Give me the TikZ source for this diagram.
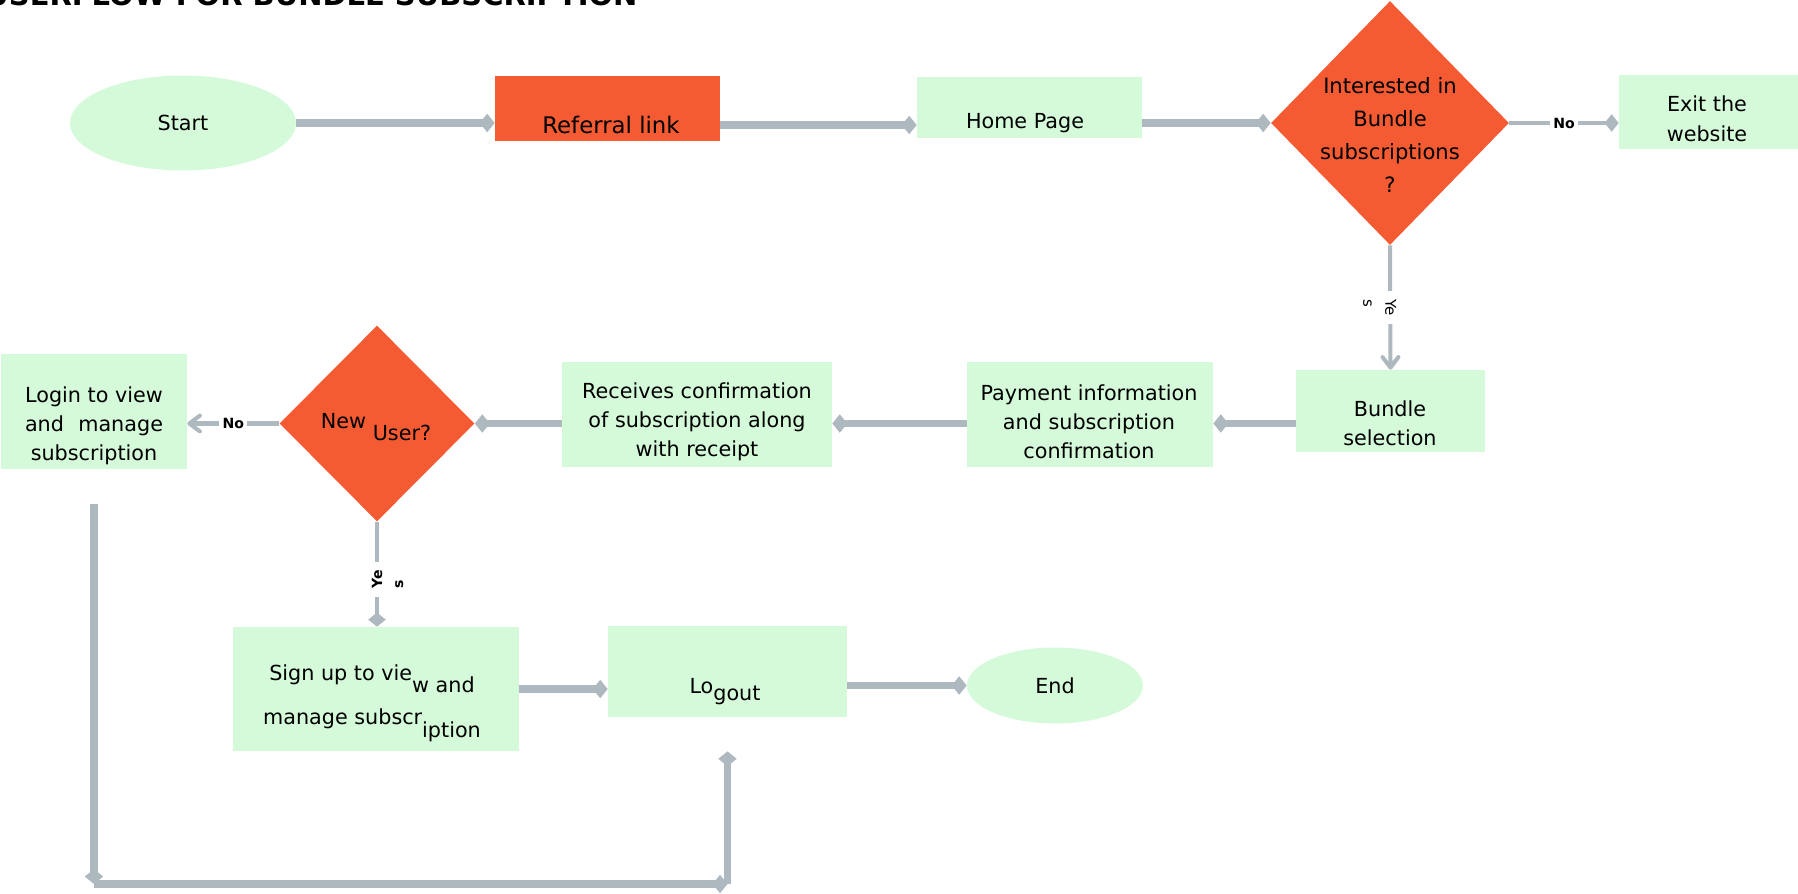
\documentclass[tikz,border=0pt]{standalone}
\usepackage{fontspec}
\setmainfont{DejaVu Sans}
\usetikzlibrary{shapes.geometric,arrows.meta}
\definecolor{boxgreen}{RGB}{213,250,217}
\definecolor{boxorange}{RGB}{244,91,50}
\definecolor{linegrey}{RGB}{173,184,191}

\begin{document}
\begin{tikzpicture}[x=0.02cm,y=-0.02cm,
		box/.style={rectangle,fill=boxgreen,inner sep=0pt},
		hot/.style={rectangle,fill=boxorange,inner sep=0pt},
		oval/.style={ellipse,fill=boxgreen,inner sep=0pt},
		choice/.style={diamond,fill=boxorange,inner sep=0pt},
		txt/.style={align=center,font=\fontsize{11.8}{16.5}\selectfont},
		flow/.style={draw=linegrey,line width=4.4pt,-{Diamond[length=8.5pt,width=10.5pt]}},
		thinflow/.style={draw=linegrey,line width=2.3pt},
		answer/.style={fill=white,font=\bfseries\fontsize{8}{12}\selectfont,inner sep=2pt}]
				% the page, the title is cut at the top
				\useasboundingbox (0,0) rectangle (1798,893);
				\clip (0,0) rectangle (1798,893);
				\node[anchor=base west,inner sep=0pt,font=\bfseries\fontsize{16.5}{20}\selectfont] (title) at (-15,5) {USERFLOW FOR BUNDLE SUBSCRIPTION};

				% draw the first row
				\node[oval,txt,minimum width=4.52cm,minimum height=1.9cm] (start) at (183,123) {Start};
				\node[hot,minimum width=4.5cm,minimum height=1.3cm] (ref) at (607.5,108.5) {};
				\node[txt,font=\fontsize{13}{16}\selectfont] (ref-t) at (611,125) {Referral link};
				\node[box,minimum width=4.5cm,minimum height=1.22cm] (home) at (1029.5,107.5) {};
				\node[txt] (home-t) at (1025,123) {Home Page};
				\node[choice,minimum width=4.76cm,minimum height=4.88cm] (int) at (1390,123) {};
				\node[txt,font=\fontsize{12}{18.7}\selectfont] (int-t) at (1390,135) {Interested in\\Bundle\\subscriptions\\?};
				\node[box,minimum width=3.58cm,minimum height=1.48cm] (exit) at (1708.5,112) {};
				\node[txt,font=\fontsize{11.8}{17}\selectfont] (exit-t) at (1707,119) {Exit the\\website};

				% draw the second row
				\node[box,minimum width=3.78cm,minimum height=1.64cm] (bundle) at (1390.5,411) {};
				\node[txt] (bundle-t) at (1390,423.5) {Bundle\\selection};
				\node[box,minimum width=4.92cm,minimum height=2.1cm] (pay) at (1090,414.5) {};
				\node[txt] (pay-t) at (1089,422) {Payment information\\and subscription\\confirmation};
				\node[box,minimum width=5.4cm,minimum height=2.1cm] (rec) at (697,414.5) {};
				\node[txt] (rec-t) at (697,422) {Receives confirmation\\of subscription along\\with receipt};
				\node[choice,minimum width=3.9cm,minimum height=3.92cm] (new) at (377,423.5) {};
				\node[txt,anchor=base] (new-t) at (376,428) {New \raisebox{-7pt}{User?}};
				\node[box,minimum width=3.72cm,minimum height=2.3cm] (login) at (94,411.5) {};
				\node[txt] (login-t) at (94,425.5) {Login to view\\and\hspace{0.69em}manage\\subscription};

				% draw the third row
				\node[box,minimum width=5.72cm,minimum height=2.48cm] (signup) at (376,689) {};
				\node[txt] (signup-t) at (372,703) {Sign up to vie\raisebox{-7pt}{w and}\\[9pt]manage subscr\raisebox{-7pt}{iption}};
				\node[box,minimum width=4.78cm,minimum height=1.82cm] (logout) at (727.5,671.5) {};
				\node[txt,anchor=base] (logout-t) at (725,693.5) {Lo\raisebox{-4pt}{gout}};
				\node[oval,txt,minimum width=3.52cm,minimum height=1.52cm] (finish) at (1055,685.5) {End};

				% arrows of the first row
				\draw[flow] (start.east) -- (start.east -| ref.west);
				\draw[flow] (ref.east |- ref-t) -- (home.west |- ref-t);
				\draw[flow] (home.east |- int) -- (int.west);
				\draw[thinflow,-{Diamond[length=8pt,width=10pt]}] (int.east) -- node[answer] (no1) {No} (int.east -| exit.west);
				\draw[thinflow,-{Straight Barb[length=6pt,width=9pt,round]}] (int.south) -- node[answer,xshift=-6pt,rotate=-90,align=left,font=\fontsize{8.5}{12.5}\selectfont,inner xsep=5pt,inner ysep=1pt] (yes1) {Ye\\s} (bundle.north);

				% arrows of the second row
				\draw[flow] (bundle.west |- bundle-t) -- (pay.east |- bundle-t);
				\draw[flow] (pay.west |- bundle-t) -- (rec.east |- bundle-t);
				\draw[flow] (rec.west |- bundle-t) -- (new.east);
				\draw[thinflow,-{Straight Barb[length=6pt,width=9pt,round]}] (new.west) -- node[answer] (no2) {No} (new.west -| login.east);
				\draw[thinflow,-{Diamond[length=8pt,width=10pt]}] (new.south) -- node[answer,xshift=6pt,rotate=90,align=left,inner xsep=5pt,inner ysep=1pt,pos=0.55] (yes2) {Ye\\s} (new.south |- signup.north);

				% arrows of the third row and the way back
				\draw[flow] (signup.east) -- (signup.east -| logout.west);
				\draw[flow] (logout.east |- finish.west) -- (finish.west);
				\coordinate (bottom) at (0,884);
				\coordinate (c1) at (login.south |- bottom);
				\coordinate (c2) at (logout.south |- bottom);
				\draw[flow] ([yshift=-0.7cm]login.south) -- (c1);
				\draw[flow] (c1) -- (c2);
				\draw[flow] (c2) -- ([yshift=-0.68cm]logout.south);
\end{tikzpicture}
\end{document}
